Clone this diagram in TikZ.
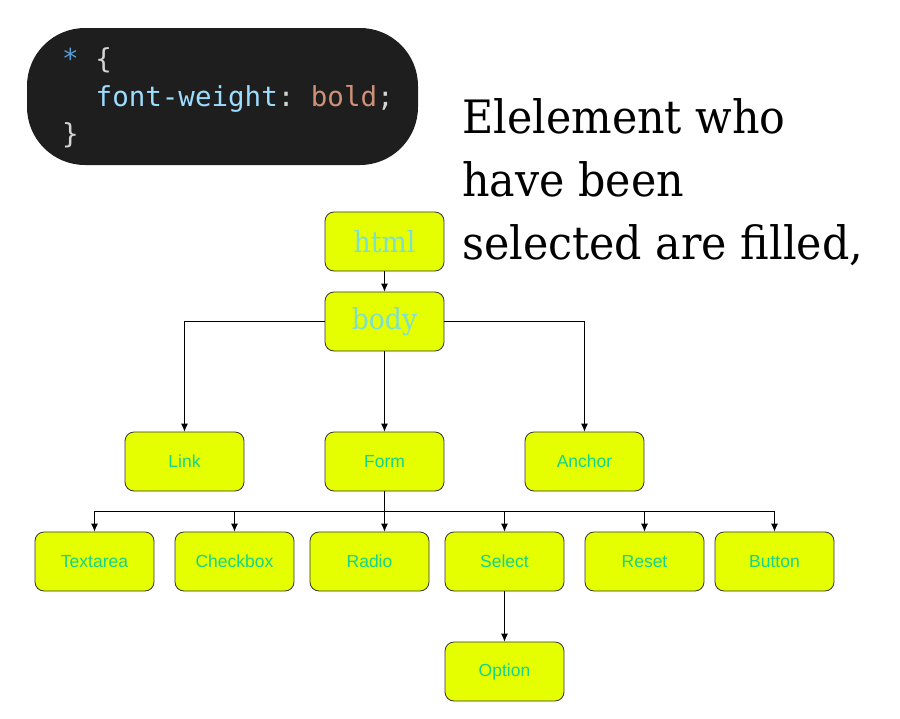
\documentclass[tikz,border=0pt]{standalone}
\usepackage{fontspec}
\usepackage{graphicx}
\setmainfont{DejaVu Serif}
\setsansfont{Liberation Sans}
\setmonofont{DejaVu Sans Mono}
\usetikzlibrary{arrows.meta}
\definecolor{codebg}{HTML}{1E1E1E}
\definecolor{cstar}{HTML}{569CD6}
\definecolor{cbrace}{HTML}{D4D4D4}
\definecolor{cprop}{HTML}{9CDCFE}
\definecolor{cval}{HTML}{CE9178}
\definecolor{boxfill}{HTML}{E6FF00}
\definecolor{boxline}{HTML}{333333}
\definecolor{toptext}{HTML}{7EE0CC}
\definecolor{lowtext}{HTML}{14D48C}
\begin{document}
\begin{tikzpicture}[x=1pt,y=-1pt,
  elbox/.style={draw=boxline, fill=boxfill, rounded corners=9pt, line width=0.8pt,
    minimum width=119pt, minimum height=59pt, inner sep=0pt},
  topbox/.style={elbox, text=toptext, font=\fontsize{29}{32}\selectfont},
  lowbox/.style={elbox, text=lowtext, font=\sffamily\fontsize{17.5}{20}\selectfont},
  arr/.style={-{Latex[length=8pt,width=7pt]}, line width=0.8pt, draw=black},
  codeline/.style={anchor=base west, inner sep=0pt, font=\ttfamily\fontsize{27.5}{30}\selectfont},
  bigtext/.style={anchor=base west, inner sep=0pt, font=\fontsize{46}{60}\selectfont}
]
\useasboundingbox (0,0) rectangle (900,718);

% code block
\fill[codebg, rounded corners=58pt] (27,28) rectangle (418,165);
\node[codeline] (c1) at (62,68) {\textcolor{cstar}{*} \textcolor{cbrace}{\{}};
\node[codeline] (c2) at (95.5,106) {\textcolor{cprop}{font-weight}\textcolor{cbrace}{:} \textcolor{cval}{bold}\textcolor{cbrace}{;}};
\node[codeline] (c3) at (62,143) {\textcolor{cbrace}{\}}};

% explanatory text
\node[bigtext] (t1) at (462,133) {\scalebox{0.93}[1]{Elelement who}};
\node[bigtext] (t2) at (462,196) {\scalebox{0.93}[1]{have been}};
\node[bigtext] (t3) at (462,259) {\scalebox{0.93}[1]{selected are filled,}};

% tree nodes
\node[topbox] (html) at (384.5,241.5) {\scalebox{0.92}[1]{html}};
\node[topbox] (body) at (384.5,321.5) {\scalebox{0.92}[1]{body}};
\node[lowbox] (link) at (184.5,461.5) {Link};
\node[lowbox] (form) at (384.5,461.5) {Form};
\node[lowbox] (anchor) at (584.5,461.5) {Anchor};
\node[lowbox] (textarea) at (94.5,561.5) {Textarea};
\node[lowbox] (checkbox) at (234.5,561.5) {Checkbox};
\node[lowbox] (radio) at (369.5,561.5) {Radio};
\node[lowbox] (select) at (504.5,561.5) {Select};
\node[lowbox] (reset) at (644.5,561.5) {Reset};
\node[lowbox] (button) at (774.5,561.5) {Button};
\node[lowbox] (option) at (504.5,671.5) {Option};

% connectors
\draw[arr] (html) -- (body);
\draw[arr] (body.west) -| (link.north);
\draw[arr] (body.east) -| (anchor.north);
\draw[arr] (body) -- (form);

\coordinate (bus) at (384.5,511);
\draw[arr] (form.south) -- (form.south |- radio.north);
\draw[arr] (bus) -| (textarea.north);
\draw[arr] (bus) -| (checkbox.north);
\draw[arr] (bus) -| (select.north);
\draw[arr] (bus) -| (reset.north);
\draw[arr] (bus) -| (button.north);
\draw[arr] (select) -- (option);
\end{tikzpicture}
\end{document}
